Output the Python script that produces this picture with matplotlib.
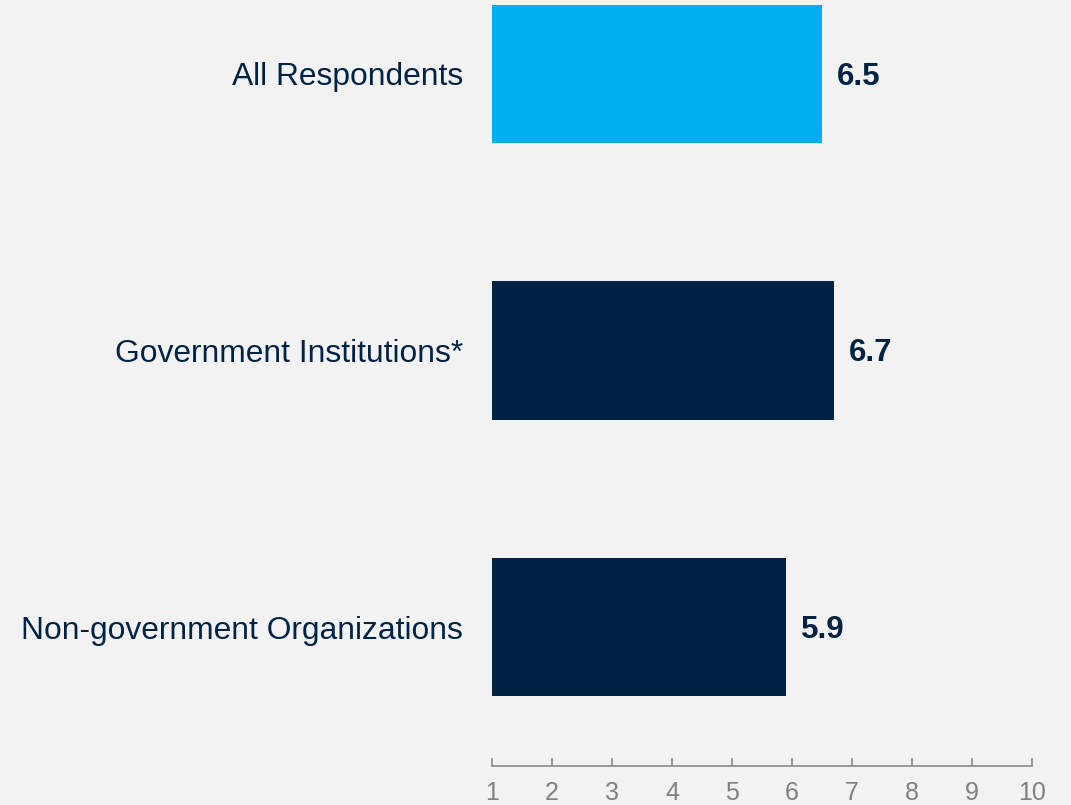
import matplotlib.pyplot as plt

categories = ['All Respondents', 'Government Institutions*', 'Non-government Organizations']
scores = [6.5, 6.7, 5.9]
bar_colors = ['#00B0F0', '#002244', '#002244']
xticks = [1, 2, 3, 4, 5, 6, 7, 8, 9, 10]

plt.rcParams['font.family'] = ['Liberation Sans', 'DejaVu Sans']

fig = plt.figure(figsize=(10.71, 8.05), dpi=100, facecolor='#f2f2f2')
ax = fig.add_axes([492 / 1071, 39 / 805, 540 / 1071, 766 / 805])
ax.set_facecolor('#f2f2f2')

pos = list(range(len(categories)))
ax.barh(pos, [s - 1 for s in scores], left=1, height=0.5, color=bar_colors)

for p, s in zip(pos, scores):
    ax.annotate(f'{s:.1f}', (s, p), xytext=(11, -2), textcoords='offset points',
                va='center', ha='left', fontsize=22.5, fontweight='bold', color='#002244')

ax.set_xlim(1, 10)
ax.set_ylim(2.502, -0.267)
ax.set_xticks(xticks)
ax.set_yticks(pos)
ax.set_yticklabels(categories, fontsize=22.9, color='#002244')
ax.tick_params(axis='y', length=0, pad=21)
ax.tick_params(axis='x', direction='in', length=6, width=1.1, color='#808080',
               labelcolor='#808080', labelsize=18, pad=11)

for side in ['left', 'top', 'right']:
    ax.spines[side].set_visible(False)
ax.spines['bottom'].set_color('#808080')
ax.spines['bottom'].set_linewidth(1.1)

fig.savefig('out.png', dpi=100, facecolor=fig.get_facecolor())
